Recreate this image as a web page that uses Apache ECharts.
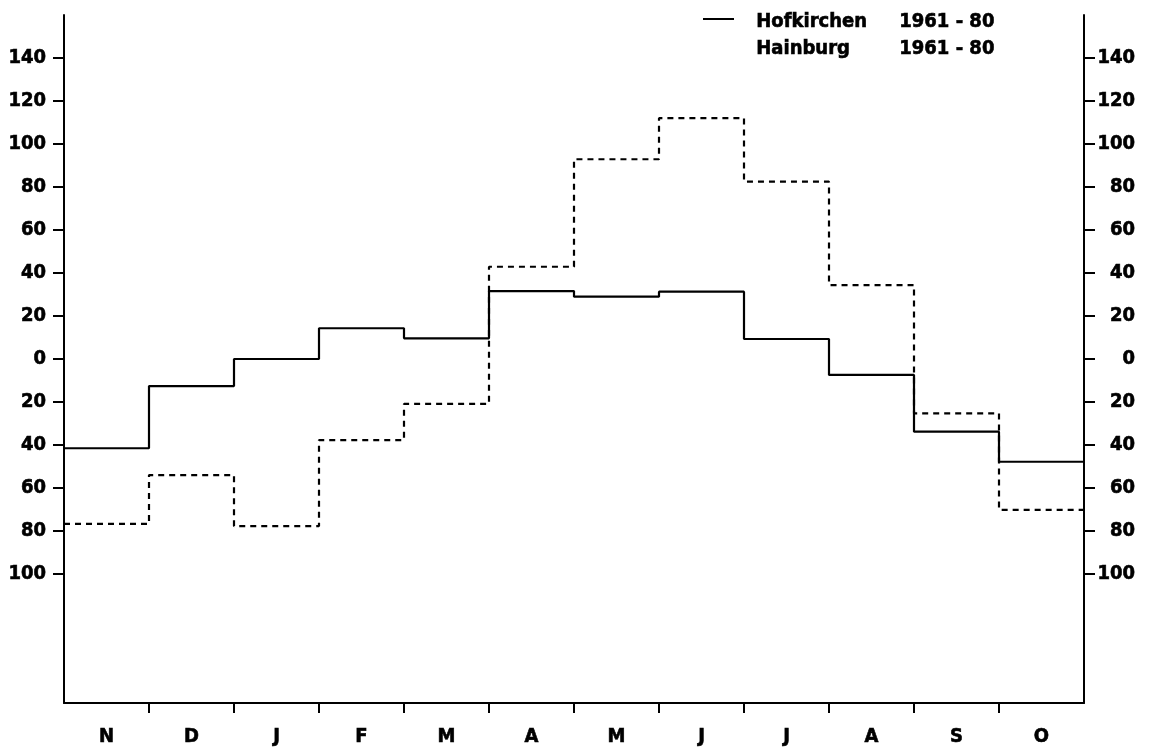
<!DOCTYPE html>
<html>
<head>
<meta charset="utf-8">
<script src="https://cdn.jsdelivr.net/npm/echarts@6/dist/echarts.min.js"></script>
<style>
html,body{margin:0;padding:0;background:#fff;}
#c{width:1151px;height:749px;}
</style>
</head>
<body>
<div id="c"></div>
<script>
// Months (hydrological year Nov - Oct)
const months = ['N','D','J','F','M','A','M','J','J','A','S','O'];
// Hofkirchen 1961 - 80 (solid)
const hofkirchen = [-41.5, -12.6, 0, 14.3, 9.6, 31.6, 29, 31.3, 9.3, -7.4, -33.8, -47.8];
// Hainburg 1961 - 80 (dashed)
const hainburg = [-76.7, -54, -77.7, -37.7, -20.9, 42.9, 92.9, 112, 82.5, 34.4, -25.3, -70.2];
// Y tick values shown (labels as absolute values)
const yTicks = [-100, -80, -60, -40, -20, 0, 20, 40, 60, 80, 100, 120, 140];

const FONT = '"DejaVu Sans Condensed", "DejaVu Sans", sans-serif';

function stepData(vals) {
  const d = vals.map((v, i) => [i, v]);
  d.push([vals.length, vals[vals.length - 1]]);
  return d;
}
const xTicks = months.slice(1).map((m, i) => i + 1);
const xLabelPos = months.map((m, i) => i + 0.5);

const chart = echarts.init(document.getElementById('c'), null, {renderer: 'canvas'});
const axisLabelStyle = {color: '#000', fontFamily: FONT, fontWeight: 'bold', fontSize: 20,
  textBorderColor: '#000', textBorderWidth: 0.6};
const yAxisCommon = {
  type: 'value', min: -160, max: 160,
  splitLine: {show: false},
  axisLine: {show: true, onZero: false, lineStyle: {color: '#000', width: 2}},
  axisTick: {show: true, inside: false, length: 11, lineStyle: {color: '#000', width: 2}, customValues: yTicks},
};
const legendText = {font: 'bold 20px ' + FONT, fill: '#000', stroke: '#000', lineWidth: 0.6};
chart.setOption({
  animation: false,
  backgroundColor: '#fff',
  grid: {left: 64, right: 67, top: 15, bottom: 46, containLabel: false, outerBoundsMode: 'none'},
  xAxis: {
    type: 'value', min: 0, max: 12,
    splitLine: {show: false},
    axisLine: {show: true, onZero: false, lineStyle: {color: '#000', width: 2}},
    axisTick: {show: true, inside: false, length: 10, lineStyle: {color: '#000', width: 2}, customValues: xTicks},
    axisLabel: Object.assign({}, axisLabelStyle, {
      customValues: xLabelPos, margin: 24,
      formatter: v => months[Math.floor(v)]
    })
  },
  yAxis: [
    Object.assign({}, yAxisCommon, {
      position: 'left',
      axisLabel: Object.assign({}, axisLabelStyle, {customValues: yTicks, margin: 18, formatter: v => String(Math.abs(v))})
    }),
    Object.assign({}, yAxisCommon, {
      position: 'right',
      axisLabel: Object.assign({}, axisLabelStyle, {customValues: yTicks, margin: 51, align: 'right', formatter: v => String(Math.abs(v))})
    })
  ],
  series: [
    {
      name: 'Hofkirchen 1961 - 80', type: 'line', step: 'end', yAxisIndex: 0,
      data: stepData(hofkirchen), symbol: 'none',
      lineStyle: {color: '#000', width: 2.2, type: 'solid'}
    },
    {
      name: 'Hainburg 1961 - 80', type: 'line', step: 'end', yAxisIndex: 0,
      data: stepData(hainburg), symbol: 'none',
      lineStyle: {color: '#000', width: 2.2, type: [6, 5]}
    }
  ],
  graphic: [
    {type: 'line', shape: {x1: 703, y1: 19, x2: 734, y2: 19}, style: {stroke: '#000', lineWidth: 2}},
    {type: 'text', left: 756, top: 11, style: Object.assign({text: 'Hofkirchen'}, legendText)},
    {type: 'text', left: 899, top: 11, style: Object.assign({text: '1961 - 80'}, legendText)},
    {type: 'text', left: 756, top: 38, style: Object.assign({text: 'Hainburg'}, legendText)},
    {type: 'text', left: 899, top: 38, style: Object.assign({text: '1961 - 80'}, legendText)}
  ]
});
</script>
</body>
</html>
